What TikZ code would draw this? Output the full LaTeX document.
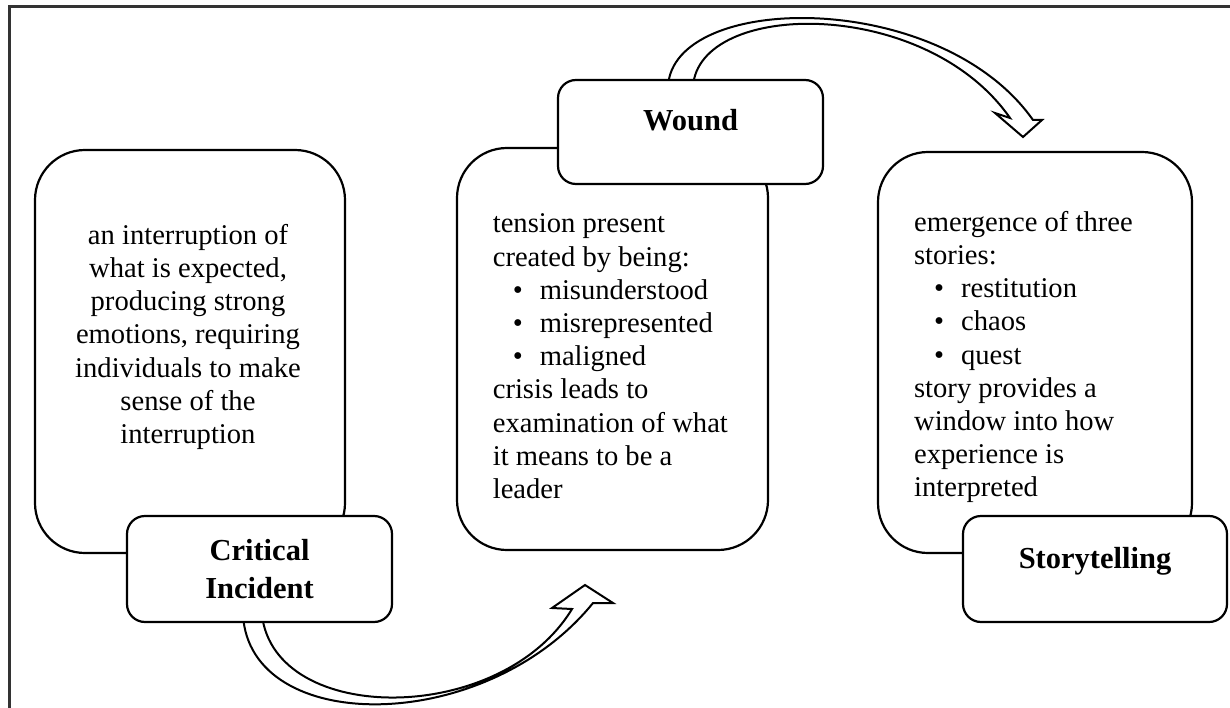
\documentclass[tikz,border=0pt]{standalone}
\usepackage{fontspec}
\setmainfont{Liberation Serif}
\usetikzlibrary{backgrounds}

\newcommand{\bul}[1]{\hspace*{20pt}\makebox[27pt][l]{\textbullet}#1}

\begin{document}
\begin{tikzpicture}[x=1pt,y=-1pt,line width=2.2pt,
  big box/.style={rectangle,draw,fill=white,rounded corners=50pt,inner sep=0pt},
  tag box/.style={rectangle,draw,fill=white,rounded corners=18pt,minimum width=265pt,
    minimum height=106pt,inner sep=0pt,align=center,font=\fontsize{30.5}{38}\selectfont\bfseries},
  one line/.style={text height=21pt,text depth=23pt},
  body text/.style={inner sep=0pt,font=\fontsize{28.6}{33.2}\selectfont},
  block arrow/.style={draw,fill=white,line width=2pt,line join=miter}]

  \useasboundingbox (0,0) rectangle (1230,708);
  \draw[line width=3pt,black!80] (9,7) rectangle (1250,730);

  % the three stages
  \node[big box,minimum width=310pt,minimum height=403pt] (incidentbox) at (190,351.5) {};
  \node[big box,minimum width=311pt,minimum height=402pt] (woundbox) at (612.5,349) {};
  \node[big box,minimum width=314pt,minimum height=401pt] (storybox) at (1035,352.5) {};

  \node[tag box] (incident) at (259.5,569) {Critical\\Incident};
  \node[tag box,one line,minimum height=104pt] (wound) at (690.5,132) {Wound};
  \node[tag box,one line,minimum width=264pt] (story) at (1095,569) {Storytelling};

  \node[body text,align=center,anchor=north] (incidenttext) at (188,220)
    {\strut an interruption of\\what is expected,\\producing strong\\emotions, requiring\\
     individuals to make\\sense of the\\interruption};
  \node[body text,align=left,anchor=north west] (woundtext) at (491.7,208.5)
    {\strut tension present\\created by being:\\\bul{misunderstood}\\\bul{misrepresented}\\
     \bul{maligned}\\crisis leads to\\examination of what\\it means to be a\\leader};
  \node[body text,align=left,anchor=north west] (storytext) at (913,207)
    {\strut emergence of three\\stories:\\\bul{restitution}\\\bul{chaos}\\\bul{quest}\\
     story provides a\\window into how\\experience is\\interpreted};

  \coordinate (tipA) at (585,585);
  \coordinate (tipB) at (1023,137);

  \begin{scope}[on background layer]
    \draw[block arrow] ([xshift=-16.5pt,yshift=8pt]incident.south)
      .. controls (250,736) and (485,736) .. (593,603) -- (613,603) -- (tipA)
      -- (552,608) -- (572,609)
      .. controls (501,726) and (275,726) .. ([xshift=2.5pt,yshift=8pt]incident.south);
    \draw[block arrow] ([xshift=-22.5pt,yshift=-8pt]wound.north)
      .. controls (672,-8) and (940,-12) .. (1033,120) -- (1042,120) -- (tipB)
      -- (995,113) -- (1010,118)
      .. controls (925,-4) and (698,0) .. ([xshift=2.5pt,yshift=-8pt]wound.north);
  \end{scope}

\end{tikzpicture}
\end{document}
